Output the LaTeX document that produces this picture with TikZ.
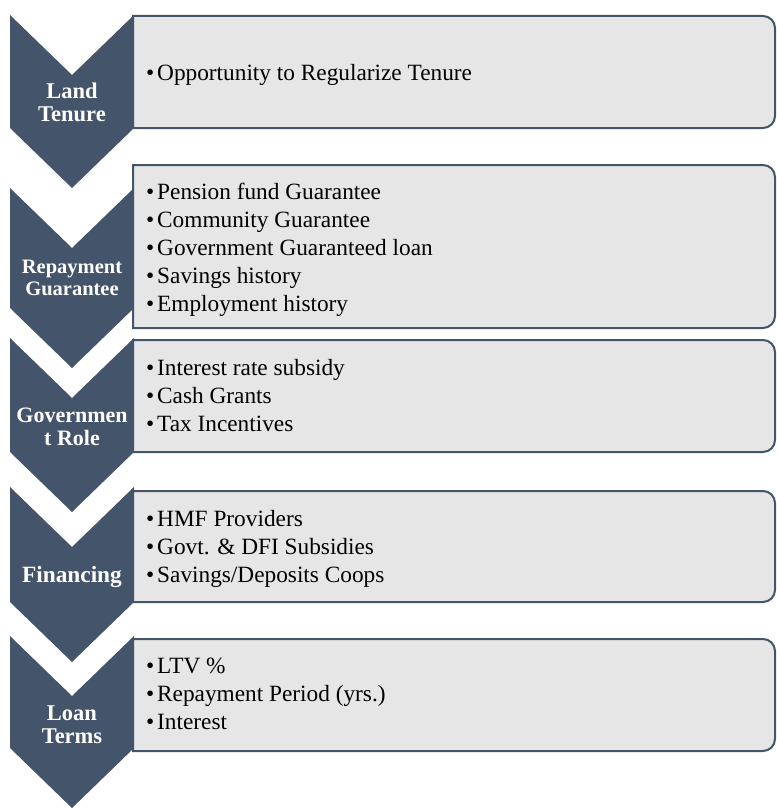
\documentclass[tikz,border=0pt]{standalone}
\usepackage{fontspec}
\setmainfont{Liberation Serif}
\usepackage{xcolor}
\usepackage{tikz}

\definecolor{slate}{HTML}{44546A}
\definecolor{panelgray}{HTML}{E7E6E6}

\tikzset{
  chevron/.style={fill=slate, draw=none},
  panel/.style={fill=panelgray, draw=slate, line width=2pt},
  steplabel/.style={text=white, align=center, inner sep=0pt,
    font=\bfseries\fontsize{22.5}{23}\selectfont},
  itemlist/.style={anchor=west, align=left, inner sep=0pt,
    font=\fontsize{23.3}{28}\selectfont}
}
\newcommand{\bitem}{\makebox[11pt][l]{\textbullet}}

\begin{document}
\begin{tikzpicture}[x=1pt, y=1pt]
    \useasboundingbox (0,0) rectangle (776,-808);

    % chevrons down the left side
    \fill[chevron] (10,-15) -- (72,-75) -- (134,-15) -- (134,-128) -- (72,-188) -- (10,-128) -- cycle;
    \fill[chevron] (10,-188) -- (72,-248) -- (134,-188) -- (134,-308) -- (72,-368) -- (10,-308) -- cycle;
    \fill[chevron] (10,-338) -- (72,-398) -- (134,-338) -- (134,-452) -- (72,-512) -- (10,-452) -- cycle;
    \fill[chevron] (10,-487) -- (72,-547) -- (134,-487) -- (134,-602) -- (72,-662) -- (10,-602) -- cycle;
    \fill[chevron] (10,-636) -- (72,-696) -- (134,-636) -- (134,-748) -- (72,-808) -- (10,-748) -- cycle;

    % panels, rounded on the right only
    \filldraw[panel] (133,-16) -- (763,-16) arc[start angle=90, end angle=0, radius=12]
        -- (775,-116) arc[start angle=0, end angle=-90, radius=12] -- (133,-128) -- cycle;
    \filldraw[panel] (133,-165) -- (763,-165) arc[start angle=90, end angle=0, radius=12]
        -- (775,-316) arc[start angle=0, end angle=-90, radius=12] -- (133,-328) -- cycle;
    \filldraw[panel] (133,-340) -- (763,-340) arc[start angle=90, end angle=0, radius=12]
        -- (775,-440) arc[start angle=0, end angle=-90, radius=12] -- (133,-452) -- cycle;
    \filldraw[panel] (133,-491) -- (763,-491) arc[start angle=90, end angle=0, radius=12]
        -- (775,-590) arc[start angle=0, end angle=-90, radius=12] -- (133,-602) -- cycle;
    \filldraw[panel] (133,-639) -- (763,-639) arc[start angle=90, end angle=0, radius=12]
        -- (775,-739) arc[start angle=0, end angle=-90, radius=12] -- (133,-751) -- cycle;

    % step names
    \node[steplabel] (tenure) at (72,-102) {Land\\Tenure};
    \node[steplabel, font=\bfseries\fontsize{20.5}{22}\selectfont] (guarantee) at (72,-278) {Repayment\\Guarantee};
    \node[steplabel, font=\bfseries\fontsize{22}{23}\selectfont] (role) at (72,-427) {Governmen\\t Role};
    \node[steplabel, font=\bfseries\fontsize{23.3}{23}\selectfont] (financing) at (72,-577) {Financing};
    \node[steplabel] (terms) at (72,-725) {Loan\\Terms};

    % bullet lists
    \node[itemlist] (tenurelist) at (146,-74.7) {\bitem Opportunity to Regularize Tenure};
    \node[itemlist] (guaranteelist) at (146,-249.7) {\bitem Pension fund Guarantee\\
        \bitem Community Guarantee\\ \bitem Government Guaranteed loan\\
        \bitem Savings history\\ \bitem Employment history};
    \node[itemlist] (rolelist) at (146,-395.6) {\bitem Interest rate subsidy\\
        \bitem Cash Grants\\ \bitem Tax Incentives};
    \node[itemlist] (financinglist) at (146,-548.7) {\bitem HMF Providers\\
        \bitem Govt. \& DFI Subsidies\\ \bitem Savings/Deposits Coops};
    \node[itemlist] (termslist) at (146,-693.8) {\bitem LTV \%\\
        \bitem Repayment Period (yrs.)\\ \bitem Interest};
\end{tikzpicture}
\end{document}
